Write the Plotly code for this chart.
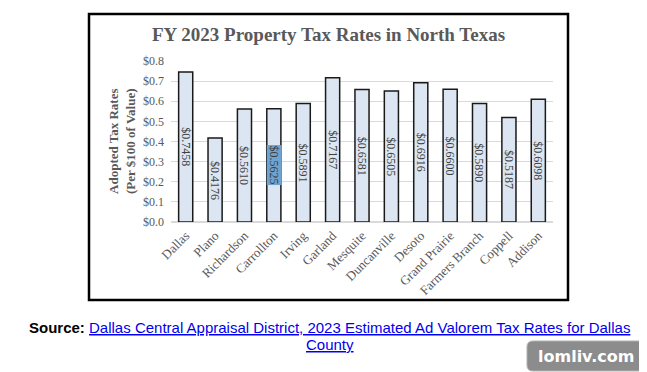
import plotly.graph_objects as go

cities = ["Dallas", "Plano", "Richardson", "Carrollton", "Irving", "Garland", "Mesquite",
          "Duncanville", "Desoto", "Grand Prairie", "Farmers Branch", "Coppell", "Addison"]
rates = [0.7458, 0.4176, 0.5610, 0.5625, 0.5891, 0.7167, 0.6581,
         0.6505, 0.6916, 0.6600, 0.5890, 0.5187, 0.6098]
highlighted = "Carrollton"

OFF = 8  # page body margin
W, H = 647 - OFF, 372 - OFF
L, R, T, B = 171 - OFF, 553 - OFF, 61 - OFF, 222 - OFF


def px(x):
    return (x - OFF - L) / (R - L)


def py(y):
    return (B - (y - OFF)) / (B - T)


SERIF = "Liberation Serif, Times New Roman, serif"
SANS = "Liberation Sans, Arial, sans-serif"
GRAY = "#595959"
LINK = "#0000EE"

fig = go.Figure()
fig.add_trace(go.Bar(
    x=cities, y=rates,
    marker=dict(color="#DCE6F2", line=dict(color="#1a1a1a", width=1.5)),
    width=0.48,
    hoverinfo="x+y",
))

annotations = []
for c, v in zip(cities, rates):
    annotations.append(dict(
        x=c, y=v / 2, xref="x", yref="y", text=f"${v:.4f}", showarrow=False,
        xanchor="center", yanchor="middle",
        textangle=90, font=dict(family=SERIF, size=12, color="#404040"),
        bgcolor="#6FA3CF" if c == highlighted else None, borderpad=0,
    ))

annotations += [
    dict(x=px(328), y=py(34), xref="paper", yref="paper", showarrow=False,
         xanchor="center", yanchor="middle",
         text="<b>FY 2023 Property Tax Rates in North Texas</b>",
         font=dict(family=SERIF, size=19, color=GRAY)),
    dict(x=px(122), y=py(141), xref="paper", yref="paper", showarrow=False,
         xanchor="center", yanchor="middle",
         textangle=-90, text="<b>Adopted Tax Rates<br>(Per $100 of Value)</b>",
         font=dict(family=SERIF, size=13, color=GRAY)),
    dict(x=px(329), y=py(327), xref="paper", yref="paper", showarrow=False,
         xanchor="center", yanchor="middle",
         text=("<b>Source:</b> <a href='https://www.dallascad.org' style='color:#0000EE'>"
               "<span style='text-decoration:underline;color:#0000EE'>Dallas Central Appraisal District, "
               "2023 Estimated Ad Valorem Tax Rates for Dallas</span></a>"),
         font=dict(family=SANS, size=15, color="#000000")),
    dict(x=px(330), y=py(344), xref="paper", yref="paper", showarrow=False,
         xanchor="center", yanchor="middle",
         text=("<a href='https://www.dallascad.org' style='color:#0000EE'>"
               "<span style='text-decoration:underline;color:#0000EE'>County</span></a>"),
         font=dict(family=SANS, size=15, color=LINK)),
    dict(x=px(586), y=py(356), xref="paper", yref="paper", showarrow=False,
         xanchor="center", yanchor="middle",
         text="<b>lomliv.com</b>",
         font=dict(family="DejaVu Sans, sans-serif", size=16, color="#ffffff")),
]


def rounded_rect(x0, y0, x1, y1, r):
    X = px
    Y = py
    return (f"M {X(x0 + r)},{Y(y0)} L {X(x1 - r)},{Y(y0)} "
            f"Q {X(x1)},{Y(y0)} {X(x1)},{Y(y0 + r)} L {X(x1)},{Y(y1 - r)} "
            f"Q {X(x1)},{Y(y1)} {X(x1 - r)},{Y(y1)} L {X(x0 + r)},{Y(y1)} "
            f"Q {X(x0)},{Y(y1)} {X(x0)},{Y(y1 - r)} L {X(x0)},{Y(y0 + r)} "
            f"Q {X(x0)},{Y(y0)} {X(x0 + r)},{Y(y0)} Z")


shapes = [
    dict(type="rect", xref="paper", yref="paper",
         x0=px(89), x1=px(568), y0=py(300), y1=py(14),
         line=dict(color="#000000", width=2.5), fillcolor="rgba(0,0,0,0)", layer="above"),
    dict(type="path", xref="paper", yref="paper", path=rounded_rect(527, 341, 645, 371, 6),
         fillcolor="#8c8c8c", line=dict(color="#b0b0b0", width=1), layer="below"),
]

fig.update_layout(
    width=W, height=H,
    margin=dict(l=L, r=W - R, t=T, b=H - B),
    paper_bgcolor="white", plot_bgcolor="white",
    showlegend=False,
    bargap=0.5,
    annotations=annotations,
    shapes=shapes,
    xaxis=dict(
        tickangle=-45, tickfont=dict(family=SERIF, size=13, color=GRAY),
        showline=True, linecolor="#D9D9D9", linewidth=1, ticks="",
        showgrid=False,
    ),
    yaxis=dict(
        range=[0, 0.8], dtick=0.1, tickformat="$.1f",
        tickfont=dict(family=SERIF, size=12, color=GRAY),
        showgrid=True, gridcolor="#D9D9D9", gridwidth=1,
        zeroline=True, zerolinecolor="#D9D9D9", showline=False, ticks="",
        ticklabelstandoff=6,
    ),
)

fig.write_html("out.html")
